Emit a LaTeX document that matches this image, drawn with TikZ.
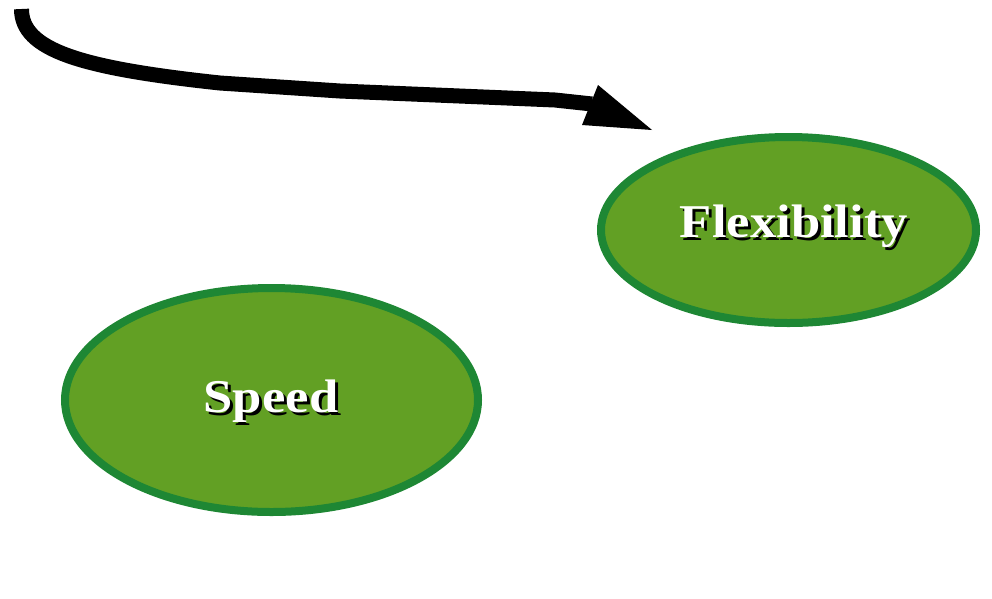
\documentclass[tikz,border=0pt]{standalone}
\usepackage{fontspec}
\setmainfont{Liberation Serif}
\usetikzlibrary{shapes.geometric}
\definecolor{leaf}{RGB}{98,160,36}
\definecolor{rim}{RGB}{30,135,52}
\tikzset{
  bubble/.style={ellipse, draw=rim, fill=leaf, line width=8pt, inner sep=0pt},
  label/.style={anchor=base, inner sep=0pt, text=white, font=\fontsize{47}{50}\selectfont\bfseries},
}
% white lettering with a black drop shadow, widened a little
\newcommand{\shadowed}[1]{%
  \makebox[0pt][l]{\hspace{3pt}\raisebox{-3pt}{\color{black}\scalebox{1.12}[1]{#1}}}%
  \scalebox{1.12}[1]{#1}}
\begin{document}
\begin{tikzpicture}[x=1pt, y=-1pt]
  \useasboundingbox (0,0) rectangle (992,598);
  % ellipses
  \node[bubble, minimum width=375pt, minimum height=186pt] (flex) at (788.5,230) {};
  \node[bubble, minimum width=413pt, minimum height=224pt] (speed) at (271.5,400) {};
  % labels
  \node[label] (flextext) at (794,237) {\shadowed{Flexibility}};
  \node[label] (speedtext) at (271,412) {\shadowed{Speed}};
  % curved arrow
  \coordinate (a0) at (21.5,9);
  \coordinate (a1) at (220,83);
  \coordinate (a2) at (555,100);
  \coordinate (a3) at (592,104);
  \draw[line width=15pt] (a0) .. controls (21.5,50) and (80,68) .. (a1) -- (340,91) -- (a2) -- (a3);
  \coordinate (h1) at (598,85);
  \coordinate (tip) at (652,130);
  \coordinate (h2) at (582,125);
  \fill (h1) -- (tip) -- (h2) -- cycle;
\end{tikzpicture}
\end{document}
